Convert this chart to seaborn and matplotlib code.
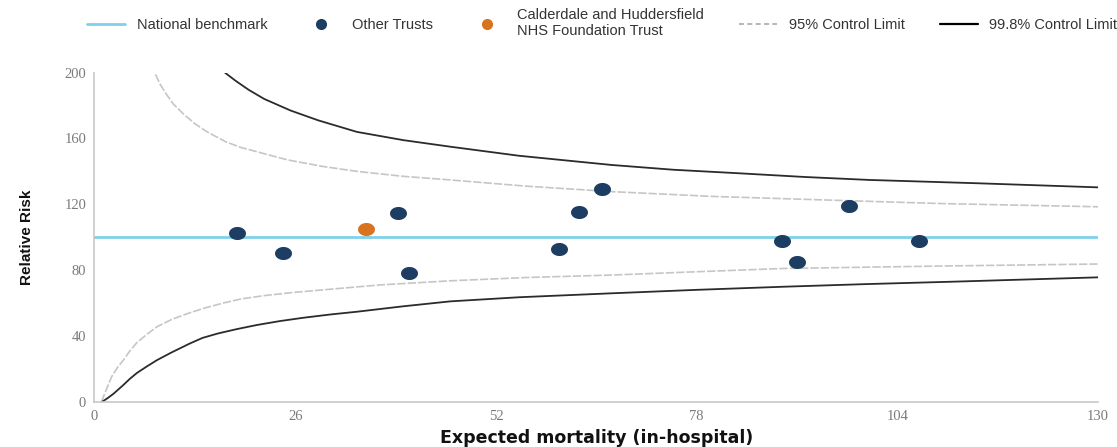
import matplotlib
matplotlib.use("Agg")
import matplotlib.pyplot as plt
import numpy as np
import pandas as pd
import seaborn as sns
from matplotlib.lines import Line2D

# values
other_expected = [18.4, 24.4, 39.3, 40.8, 60.2, 62.7, 65.8, 89.1, 91.0, 97.7, 106.8]
other_rr = [102.7, 90.4, 114.8, 78.4, 92.8, 115.3, 129.6, 97.7, 85.1, 118.8, 97.7]
trust_expected = [35.2]
trust_rr = [105.0]

benchmark_x = [0, 130]
benchmark_rr = [100, 100]

upper95_x = [7.9, 8.5, 9.3, 10.2, 11.5, 13.0, 14.6, 17.0, 19.0, 21.0, 25.0, 29.6,
             34.0, 40.0, 46.1, 56.0, 67.0, 80.0, 94.8, 110.0, 130.0]
upper95_rr = [199, 193, 187, 181, 175, 169, 164, 158, 154.5, 152, 147, 143,
              140, 137, 134.8, 131, 127.7, 124.8, 122.6, 120.4, 118.5]
lower95_x = [0.9, 1.5, 2.2, 3.0, 3.7, 4.6, 5.5, 6.8, 8.1, 10.0, 12.0, 14.3, 16.7,
             19.0, 22.0, 25.5, 29.6, 37.0, 46.1, 56.0, 67.0, 78.0, 89.3, 110.0, 130.0]
lower95_rr = [0, 7, 15, 21, 25, 31, 36, 41, 45.6, 50, 53.5, 57, 60,
              62.5, 64.5, 66.3, 68, 71, 73.5, 75.5, 77, 79, 81, 82.5, 83.7]

upper998_x = [16.9, 18.3, 20.0, 22.0, 25.4, 29.0, 34.0, 40.0, 46.1, 55.0, 67.0,
              75.0, 83.7, 92.0, 100.4, 114.3, 130.0]
upper998_rr = [200, 195, 189.5, 184, 177, 171, 164, 159, 155, 149.5, 143.9,
               141, 138.8, 136.6, 134.8, 132.8, 130.3]
lower998_x = [1.0, 1.8, 2.5, 3.7, 4.6, 5.5, 6.8, 8.1, 10.0, 12.4, 14.0, 16.0, 18.5,
              21.0, 24.0, 27.0, 30.5, 34.0, 40.0, 46.1, 55.0, 67.0, 78.0, 89.3,
              100.0, 111.5, 130.0]
lower998_rr = [0, 2.5, 5, 10, 14, 17.5, 21.5, 25.3, 30, 35.5, 38.8, 41.5, 44.2,
               46.6, 49, 51, 53, 54.7, 58, 61, 63.5, 65.9, 68, 69.9,
               71.5, 73, 75.6]

x_ticks = [0, 26, 52, 78, 104, 130]
y_ticks = [0, 40, 80, 120, 160, 200]

c_bench = "#7fd0ea"
c_other = "#1d3d63"
c_trust = "#d8741f"
c_95 = "#c6c6c6"
c_998 = "#2b2b2b"

sns.set_theme(style="white")
plt.rcParams["font.family"] = ["Liberation Sans", "DejaVu Sans"]

fig = plt.figure(figsize=(11.17, 4.47), dpi=100)
ax = fig.add_axes([0.0846, 0.1013, 0.8984, 0.7361])

sns.lineplot(x=benchmark_x, y=benchmark_rr, ax=ax, color=c_bench, lw=2)
for xs, ys in [(upper95_x, upper95_rr), (lower95_x, lower95_rr)]:
    sns.lineplot(x=xs, y=ys, ax=ax, color=c_95, lw=1.2, sort=False,
                 estimator=None, linestyle=(0, (5, 1.2)))
for xs, ys in [(upper998_x, upper998_rr), (lower998_x, lower998_rr)]:
    sns.lineplot(x=xs, y=ys, ax=ax, color=c_998, lw=1.3, sort=False, estimator=None)

t = np.linspace(0, 2 * np.pi, 40)
ellipse = list(zip(1.3 * np.cos(t), np.sin(t)))

pts = pd.DataFrame({"x": other_expected, "y": other_rr})
sns.scatterplot(data=pts, x="x", y="y", ax=ax, color=c_other, marker=ellipse,
                s=150, linewidth=0, zorder=5)
tr = pd.DataFrame({"x": trust_expected, "y": trust_rr})
sns.scatterplot(data=tr, x="x", y="y", ax=ax, color=c_trust, marker=ellipse,
                s=150, linewidth=0, zorder=5)

ax.set_xlim(0, 130)
ax.set_ylim(0, 200)
ax.set_xticks(x_ticks)
ax.set_yticks(y_ticks)
ax.tick_params(length=0, pad=6, labelsize=10.5, colors="#7a7a7a")
for lab in ax.get_xticklabels() + ax.get_yticklabels():
    lab.set_family("Liberation Serif")
for s in ["top", "right"]:
    ax.spines[s].set_visible(False)
for s in ["left", "bottom"]:
    ax.spines[s].set_color("#c8c8c8")
    ax.spines[s].set_linewidth(1.2)

ax.set_xlabel("Expected mortality (in-hospital)", fontsize=12.5, fontweight="bold",
              family="DejaVu Sans", color="#111111", labelpad=4)
ax.set_ylabel("Relative Risk", fontsize=11, fontweight="bold", color="#111111",
              family=["Liberation Sans Narrow", "Liberation Sans"], labelpad=22)

handles = [
    Line2D([], [], color=c_bench, lw=2),
    Line2D([], [], color=c_other, marker="o", ls="", markersize=7),
    Line2D([], [], color=c_trust, marker="o", ls="", markersize=7),
    Line2D([], [], color="#aaaaaa", lw=1.2, ls=(0, (3, 2))),
    Line2D([], [], color="black", lw=1.6),
]
labels = [
    "National benchmark",
    "Other Trusts",
    "Calderdale and Huddersfield\nNHS Foundation Trust",
    "95% Control Limit",
    "99.8% Control Limit",
]
fig.legend(handles, labels, loc="center", bbox_to_anchor=(0.539, 0.948), ncol=5,
           frameon=False, fontsize=10.5, handlelength=2.6, columnspacing=2.4,
           labelspacing=0.0, handletextpad=0.8, labelcolor="#333333")

fig.savefig("out.png", dpi=100)
